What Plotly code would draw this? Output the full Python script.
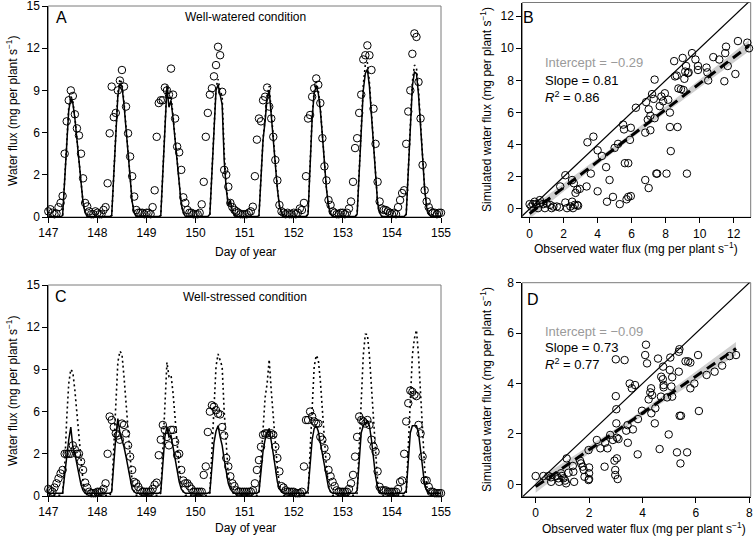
import numpy as np
import plotly.graph_objects as go

# ---------------- data ----------------
days = [147, 148, 149, 150, 151, 152, 153, 154]
hour_of_day = list(range(24))
end_day = 155

# Panel A: well-watered, observed (circles) and simulated (solid / dotted), hourly
obs_A = [
    0.4, 0.55, 0.3, 0.2, 0.25, 0.7, 1.0, 1.5, 4.5, 6.8, 8.3, 9.0, 8.6, 7.3, 6.3, 5.8, 4.5, 2.75, 1.0, 0.75, 0.4, 0.2, 0.2, 0.4,
    0.3, 0.2, 0.2, 0.5, 0.7, 2.4, 5.95, 9.27, 7.1, 7.4, 9.0, 9.7, 10.45, 9.27, 7.85, 5.95, 4.3, 2.9, 1.45, 0.5, 0.3, 0.3, 0.3, 0.2,
    0.3, 0.3, 0.2, 0.7, 1.9, 5.7, 8.1, 8.3, 8.3, 9.2, 9.0, 8.7, 10.55, 8.7, 7.0, 5.0, 4.6, 3.35, 1.4, 1.0, 0.5, 0.3, 0.3, 0.2,
    0.2, 0.2, 0.3, 0.9, 2.5, 5.7, 7.4, 8.7, 9.15, 10.0, 10.8, 12.1, 11.5, 8.9, 3.35, 3.0, 2.15, 1.0, 0.7, 0.5, 0.4, 0.3, 0.2, 0.2,
    0.2, 0.2, 0.3, 0.4, 0.73, 2.9, 5.5, 7.0, 6.8, 8.3, 8.55, 9.2, 7.85, 7.0, 5.7, 4.05, 2.6, 0.85, 0.4, 0.3, 0.2, 0.3, 0.2, 0.2,
    0.3, 0.2, 0.3, 0.6, 0.5, 1.0, 2.9, 7.0, 7.25, 8.55, 9.15, 9.85, 9.4, 8.1, 5.6, 3.6, 2.6, 1.2, 0.85, 0.4, 0.3, 0.2, 0.2, 0.3,
    0.3, 0.2, 0.3, 0.6, 1.1, 2.5, 4.9, 5.6, 7.4, 8.7, 11.2, 11.5, 12.2, 11.5, 10.45, 7.7, 5.2, 2.5, 1.1, 0.6, 0.5, 0.5, 0.4, 0.3,
    0.2, 0.3, 0.2, 0.7, 1.2, 1.7, 1.9, 5.2, 7.5, 9.0, 11.6, 13.05, 12.8, 9.6, 7.0, 3.7, 1.9, 1.1, 0.7, 0.4, 0.3, 0.3, 0.2, 0.3,
    0.3,
]
sim_A_solid = [
    0.03, 0.03, 0.03, 0.03, 0.03, 0.03, 0.03, 0.1, 2.5, 5.6, 7.6, 8.4, 8.1, 7.0, 5.6, 4.0, 2.4, 1.0, 0.3, 0.05, 0.03, 0.03, 0.03, 0.03,
    0.03, 0.03, 0.03, 0.03, 0.03, 0.03, 0.03, 0.1, 3.0, 6.3, 8.6, 9.5, 9.3, 8.0, 6.3, 4.4, 2.6, 1.1, 0.3, 0.05, 0.03, 0.03, 0.03, 0.03,
    0.03, 0.03, 0.03, 0.03, 0.03, 0.03, 0.03, 0.1, 3.0, 6.2, 9.2, 7.8, 8.3, 7.0, 5.5, 3.8, 2.2, 0.9, 0.3, 0.05, 0.03, 0.03, 0.03, 0.03,
    0.03, 0.03, 0.03, 0.03, 0.03, 0.03, 0.03, 0.2, 3.2, 6.8, 9.0, 9.4, 8.6, 8.0, 4.0, 2.0, 0.8, 1.2, 0.4, 0.1, 0.03, 0.03, 0.03, 0.03,
    0.03, 0.03, 0.03, 0.03, 0.03, 0.03, 0.03, 0.1, 2.5, 5.5, 6.8, 8.5, 9.0, 7.2, 5.5, 3.8, 2.0, 0.8, 0.3, 0.05, 0.03, 0.03, 0.03, 0.03,
    0.03, 0.03, 0.03, 0.03, 0.03, 0.03, 0.03, 0.2, 3.5, 7.0, 8.8, 9.3, 8.8, 7.6, 5.8, 3.8, 2.0, 0.8, 0.2, 0.05, 0.03, 0.03, 0.03, 0.03,
    0.03, 0.03, 0.03, 0.03, 0.03, 0.03, 0.03, 0.2, 3.0, 6.5, 9.0, 10.2, 10.5, 9.3, 7.2, 5.0, 2.8, 1.0, 0.3, 0.05, 0.03, 0.03, 0.03, 0.03,
    0.03, 0.03, 0.03, 0.03, 0.03, 0.03, 0.03, 0.2, 3.5, 7.0, 9.3, 10.3, 10.2, 8.7, 6.5, 4.0, 2.0, 0.7, 0.2, 0.05, 0.03, 0.03, 0.03, 0.03,
    0.03,
]
sim_A_dotted = [
    0.02, 0.02, 0.02, 0.02, 0.02, 0.02, 0.02, 0.1, 2.6, 5.8, 7.8, 8.6, 8.2, 7.1, 5.7, 4.1, 2.5, 1.0, 0.3, 0.05, 0.02, 0.02, 0.02, 0.02,
    0.02, 0.02, 0.02, 0.02, 0.02, 0.02, 0.02, 0.1, 3.1, 6.5, 8.8, 9.8, 9.5, 8.2, 6.4, 4.5, 2.7, 1.1, 0.3, 0.05, 0.02, 0.02, 0.02, 0.02,
    0.02, 0.02, 0.02, 0.02, 0.02, 0.02, 0.02, 0.1, 3.1, 6.4, 9.4, 8.3, 8.6, 7.2, 5.6, 3.9, 2.2, 0.9, 0.3, 0.05, 0.02, 0.02, 0.02, 0.02,
    0.02, 0.02, 0.02, 0.02, 0.02, 0.02, 0.02, 0.2, 3.3, 7.0, 9.2, 9.8, 9.0, 8.6, 4.6, 2.2, 0.9, 0.9, 0.4, 0.1, 0.02, 0.02, 0.02, 0.02,
    0.02, 0.02, 0.02, 0.02, 0.02, 0.02, 0.02, 0.1, 2.6, 5.6, 7.0, 8.7, 9.3, 7.4, 5.6, 3.9, 2.1, 0.8, 0.3, 0.05, 0.02, 0.02, 0.02, 0.02,
    0.02, 0.02, 0.02, 0.02, 0.02, 0.02, 0.02, 0.2, 3.6, 7.2, 9.0, 9.6, 9.0, 7.8, 5.9, 3.9, 2.0, 0.8, 0.2, 0.05, 0.02, 0.02, 0.02, 0.02,
    0.02, 0.02, 0.02, 0.02, 0.02, 0.02, 0.02, 0.2, 3.2, 6.8, 9.4, 10.8, 11.0, 9.6, 7.4, 5.1, 2.9, 1.0, 0.3, 0.05, 0.02, 0.02, 0.02, 0.02,
    0.02, 0.02, 0.02, 0.02, 0.02, 0.02, 0.02, 0.2, 3.6, 7.3, 9.6, 10.8, 10.6, 9.0, 6.7, 4.1, 2.0, 0.7, 0.2, 0.05, 0.02, 0.02, 0.02, 0.02,
    0.02,
]

# Panel C: well-stressed
obs_C = [
    0.5, 0.4, 0.3, 0.6, 0.9, 1.25, 1.6, 1.85, 3.0, 3.0, 3.0, 3.0, 3.6, 3.3, 3.0, 3.0, 2.45, 1.85, 0.95, 0.6, 0.3, 0.2, 0.2, 0.2,
    0.3, 0.3, 0.3, 0.5, 0.9, 3.0, 5.65, 5.4, 4.9, 4.45, 4.3, 4.0, 5.15, 5.05, 4.45, 3.6, 2.8, 1.85, 1.0, 0.9, 0.65, 0.4, 0.3, 0.3,
    0.3, 0.3, 0.3, 0.5, 0.8, 0.95, 2.9, 4.0, 5.05, 4.7, 4.2, 3.6, 4.7, 4.7, 3.85, 2.9, 3.0, 1.85, 1.1, 0.9, 0.9, 0.7, 0.5, 0.3,
    0.3, 0.3, 0.3, 0.3, 1.5, 2.1, 4.55, 6.0, 6.45, 6.35, 6.1, 5.85, 5.8, 4.9, 4.3, 2.7, 2.1, 1.4, 0.9, 0.7, 0.4, 0.3, 0.3, 0.3,
    0.3, 0.3, 0.3, 0.3, 0.4, 0.9, 1.85, 2.55, 3.5, 4.35, 4.45, 4.45, 4.35, 4.45, 4.35, 3.5, 2.7, 1.75, 0.7, 0.6, 0.4, 0.3, 0.3, 0.3,
    0.3, 0.2, 0.2, 0.2, 0.3, 2.1, 5.4, 5.4, 6.0, 5.65, 5.3, 5.15, 5.15, 4.2, 4.0, 3.4, 2.8, 1.85, 1.4, 1.0, 0.7, 0.4, 0.3, 0.3,
    0.3, 0.3, 0.3, 0.5, 0.9, 1.5, 2.8, 4.2, 5.65, 5.4, 5.3, 5.15, 5.4, 5.05, 4.0, 3.5, 3.15, 1.75, 0.65, 0.4, 0.4, 0.4, 0.3, 0.3,
    0.3, 0.3, 0.3, 0.5, 1.0, 1.1, 3.0, 5.3, 6.6, 7.5, 7.4, 7.2, 7.1, 5.05, 4.45, 2.8, 1.1, 1.1, 0.65, 0.3, 0.3, 0.2, 0.2, 0.2,
    0.2,
]
sim_C_solid = [
    0.2, 0.2, 0.2, 0.2, 0.2, 0.2, 0.2, 0.2, 1.5, 3.0, 4.0, 4.9, 3.5, 3.0, 2.3, 1.5, 0.8, 0.4, 0.2, 0.2, 0.2, 0.2, 0.2, 0.2,
    0.2, 0.2, 0.2, 0.2, 0.2, 0.2, 0.2, 0.3, 2.5, 4.2, 5.5, 4.5, 4.0, 3.5, 2.8, 2.0, 1.2, 0.5, 0.3, 0.2, 0.2, 0.2, 0.2, 0.2,
    0.2, 0.2, 0.2, 0.2, 0.2, 0.2, 0.2, 0.3, 2.5, 4.2, 4.9, 4.2, 4.3, 3.5, 2.6, 1.8, 1.0, 0.5, 0.3, 0.2, 0.2, 0.2, 0.2, 0.2,
    0.2, 0.2, 0.2, 0.2, 0.2, 0.2, 0.2, 0.3, 2.0, 3.8, 4.6, 5.0, 4.2, 3.6, 2.6, 1.7, 0.9, 0.5, 0.3, 0.2, 0.2, 0.2, 0.2, 0.2,
    0.2, 0.2, 0.2, 0.2, 0.2, 0.2, 0.2, 0.3, 1.8, 3.2, 4.0, 4.5, 4.8, 4.0, 3.0, 2.0, 1.0, 0.5, 0.3, 0.2, 0.2, 0.2, 0.2, 0.2,
    0.2, 0.2, 0.2, 0.2, 0.2, 0.2, 0.2, 0.4, 2.5, 4.0, 4.8, 5.0, 4.6, 3.8, 3.0, 2.2, 1.3, 0.6, 0.3, 0.2, 0.2, 0.2, 0.2, 0.2,
    0.2, 0.2, 0.2, 0.2, 0.2, 0.2, 0.2, 0.4, 2.5, 4.5, 5.0, 5.2, 5.3, 5.0, 4.0, 2.6, 1.4, 0.6, 0.3, 0.2, 0.2, 0.2, 0.2, 0.2,
    0.2, 0.2, 0.2, 0.2, 0.2, 0.2, 0.2, 0.4, 2.8, 4.5, 5.0, 5.0, 5.0, 4.5, 3.2, 1.8, 0.8, 0.4, 0.2, 0.2, 0.2, 0.2, 0.2, 0.2,
    0.2,
]
sim_C_dotted = [
    0.05, 0.05, 0.05, 0.05, 0.05, 0.05, 0.05, 0.2, 2.0, 5.5, 8.0, 9.0, 8.8, 7.5, 5.8, 4.0, 2.3, 1.0, 0.3, 0.05, 0.05, 0.05, 0.05, 0.05,
    0.05, 0.05, 0.05, 0.05, 0.05, 0.05, 0.05, 0.3, 3.5, 7.0, 9.5, 10.3, 10.1, 8.5, 6.5, 4.5, 2.5, 1.0, 0.3, 0.05, 0.05, 0.05, 0.05, 0.05,
    0.05, 0.05, 0.05, 0.05, 0.05, 0.05, 0.05, 0.2, 3.0, 6.5, 9.5, 8.5, 8.6, 7.3, 5.5, 3.8, 2.0, 0.8, 0.3, 0.05, 0.05, 0.05, 0.05, 0.05,
    0.05, 0.05, 0.05, 0.05, 0.05, 0.05, 0.05, 0.2, 3.3, 7.0, 9.2, 10.1, 9.6, 9.2, 6.0, 3.5, 1.5, 0.8, 0.3, 0.05, 0.05, 0.05, 0.05, 0.05,
    0.05, 0.05, 0.05, 0.05, 0.05, 0.05, 0.05, 0.2, 2.5, 5.5, 7.0, 8.0, 9.7, 7.5, 5.5, 3.8, 2.0, 0.8, 0.3, 0.05, 0.05, 0.05, 0.05, 0.05,
    0.05, 0.05, 0.05, 0.05, 0.05, 0.05, 0.05, 0.2, 3.5, 7.0, 9.2, 10.0, 9.7, 8.2, 6.2, 4.0, 2.0, 0.8, 0.3, 0.05, 0.05, 0.05, 0.05, 0.05,
    0.05, 0.05, 0.05, 0.05, 0.05, 0.05, 0.05, 0.2, 3.2, 7.0, 10.0, 11.5, 11.5, 10.0, 7.8, 5.5, 3.0, 1.0, 0.3, 0.05, 0.05, 0.05, 0.05, 0.05,
    0.05, 0.05, 0.05, 0.05, 0.05, 0.05, 0.05, 0.2, 3.8, 7.5, 10.0, 11.2, 11.8, 10.0, 7.0, 4.3, 2.0, 0.7, 0.2, 0.05, 0.05, 0.05, 0.05, 0.05,
    0.05,
]

# Panel B: observed vs simulated, well-watered
obs_B = [0.0, 0.2, 0.4, 0.6, 0.8, 1.0, 0.1, 0.5, 0.9, 1.2, 1.4, 1.6, 1.75, 1.3, 0.6, 0.3,
         2.1, 2.2, 2.4, 2.5, 2.55, 2.65, 2.8, 2.85, 1.8, 2.1, 2.5, 2.6, 2.7, 2.8, 2.95, 3.35,
         3.4, 3.6, 3.75, 4.0, 4.0, 4.25, 4.5, 4.7, 4.55, 4.9, 5.0, 5.2, 5.3, 5.5, 5.55, 5.6,
         5.7, 5.8, 5.8, 5.9, 5.95, 5.95, 6.25, 6.8, 6.8, 6.85, 6.95, 7.0, 7.0, 7.1, 7.1, 7.2,
         7.3, 7.35, 7.35, 7.45, 7.5, 7.65, 7.75, 7.85, 7.95, 8.05, 8.15, 8.25, 8.25, 8.3, 8.5, 8.55,
         8.65, 8.7, 8.75, 8.9, 9.0, 9.05, 9.1, 9.15, 9.2, 9.25, 9.3, 9.35, 9.55, 9.75, 9.9, 9.9,
         10.4, 10.45, 10.5, 10.8, 11.15, 11.45, 11.5, 11.55, 11.65, 12.1, 12.25, 12.8, 12.9]
sim_B = [0.3, 0.3, 0.3, 0.35, 0.3, 0.35, 0.15, 0.05, 0.05, 0.25, 0.15, 0.15, 0.1, 0.05, 0.55, 0.45,
         0.4, 0.05, 0.15, 0.45, 0.05, 0.25, 0.25, 0.2, 1.4, 2.1, 1.8, 1.6, 1.0, 1.2, 1.25, 1.4,
         4.15, 2.2, 4.5, 1.1, 3.65, 3.3, 2.6, 1.8, 0.45, 0.75, 3.8, 4.05, 0.3, 5.25, 4.95, 2.85,
         0.6, 0.75, 2.85, 4.3, 5.05, 0.8, 6.3, 1.8, 4.75, 6.65, 5.55, 6.2, 1.3, 5.8, 4.9, 7.15,
         6.85, 8.05, 5.65, 2.2, 2.2, 6.4, 7.0, 6.7, 7.2, 2.2, 6.8, 6.0, 5.1, 3.6, 9.2, 8.25,
         8.3, 5.1, 7.5, 7.45, 9.4, 7.4, 8.1, 8.55, 8.9, 2.2, 8.45, 8.5, 9.7, 9.3, 8.9, 8.65,
         8.8, 8.5, 8.0, 9.45, 9.3, 7.95, 9.7, 10.1, 8.9, 8.4, 10.45, 10.35, 10.0]

# Panel D: observed vs simulated, well-stressed
obs_D = [0.0, 0.29, 0.48, 0.58, 0.58, 0.79, 0.85, 0.88, 0.98, 1.04, 1.1, 1.14, 1.16, 1.23, 1.39, 1.41,
         1.44, 0.95, 1.66, 1.7, 1.76, 1.8, 1.83, 1.98, 2.0, 2.0, 2.0, 1.98, 2.29, 2.42, 2.58, 2.6,
         2.69, 2.79, 2.89, 2.95, 3.0, 3.0, 3.02, 3.02, 3.04, 3.04, 2.98, 2.98, 3.07, 3.1, 3.33, 3.39,
         3.44, 3.45, 3.52, 3.6, 3.64, 3.72, 3.82, 3.83, 3.98, 4.1, 4.13, 4.17, 4.23, 4.29, 4.32, 4.33,
         4.36, 4.46, 4.48, 4.58, 4.64, 4.69, 4.7, 4.76, 4.77, 4.79, 4.79, 4.92, 4.98, 5.02, 5.04, 5.08,
         5.11, 5.11, 5.29, 5.36, 5.36, 5.38, 5.39, 5.44, 5.42, 5.61, 5.67, 5.71, 5.79, 5.79, 5.94, 6.08,
         6.11, 6.4, 6.7, 6.98, 7.26, 7.5]
sim_D = [0.33, 0.33, 0.33, 0.28, 0.1, 0.33, 0.24, 0.1, 0.33, 0.24, 0.15, 0.04, 1.03, 0.46, 0.73, 0.5,
         0.1, 0.44, 0.94, 0.83, 0.7, 0.57, 0.3, 1.36, 0.67, 0.44, 0.21, 0.17, 1.76, 1.43, 0.7, 1.65,
         1.43, 1.96, 1.76, 0.94, 4.96, 3.5, 2.98, 2.42, 1.85, 1.03, 0.57, 0.37, 0.21, 1.8, 4.93, 2.13,
         2.35, 1.65, 4.0, 3.81, 2.18, 3.94, 1.19, 2.59, 2.92, 5.13, 5.54, 4.8, 3.37, 3.65, 3.81, 2.82,
         3.54, 2.42, 3.02, 4.99, 1.4, 3.48, 4.27, 4.17, 4.67, 3.94, 3.85, 3.45, 1.98, 4.54, 5.03, 3.88,
         4.25, 3.48, 1.27, 4.47, 5.26, 5.36, 2.72, 2.72, 0.83, 4.88, 1.27, 4.88, 4.83, 3.81, 4.0, 5.13,
         2.91, 4.34, 4.47, 4.71, 5.09, 5.13]

# regression statistics printed on the panels
intercept_B, slope_B, r2_B = -0.29, 0.81, 0.86
intercept_D, slope_D, r2_D = -0.09, 0.73, 0.77

# axis tick labels
ts_tickvals = [0, 3, 6, 9, 12, 15]
ts_ticktext = ["0", "2", "6", "9", "12", "15"]
day_ticks = [147, 148, 149, 150, 151, 152, 153, 154, 155]

# ---------------- figure ----------------
FONT = "Liberation Sans, Arial, Helvetica, sans-serif"
W, H = 754, 538
times = [d + h / 24 for d in days for h in hour_of_day] + [end_day]


def px_x(p):
    return p / W


def px_y(p):
    return 1 - p / H


fig = go.Figure()

circle = dict(symbol="circle-open", size=7.5, color="black", line=dict(width=1, color="black"))


def add_ts(obs, solid, dotted, xa, ya):
    fig.add_trace(go.Scatter(x=times, y=obs, mode="markers", marker=circle,
                             xaxis=xa, yaxis=ya, cliponaxis=False, showlegend=False))
    fig.add_trace(go.Scatter(x=times, y=dotted, mode="lines",
                             line=dict(color="black", width=1.6, dash="2px,3px"),
                             xaxis=xa, yaxis=ya, showlegend=False))
    fig.add_trace(go.Scatter(x=times, y=solid, mode="lines",
                             line=dict(color="black", width=1.5),
                             xaxis=xa, yaxis=ya, showlegend=False))


def add_scatter(ox, sy, a, b, xmax_line, xa, ya):
    ox = np.array(ox, dtype=float)
    sy = np.array(sy, dtype=float)
    n = len(ox)
    resid = sy - (a + b * ox)
    s = np.sqrt(np.sum(resid ** 2) / (n - 2))
    xm = ox.mean()
    sxx = np.sum((ox - xm) ** 2)
    xs = np.linspace(ox.min(), ox.max(), 60)
    yfit = a + b * xs
    half = s * np.sqrt(1 / n + (xs - xm) ** 2 / sxx)
    fig.add_trace(go.Scatter(x=np.concatenate([xs, xs[::-1]]),
                             y=np.concatenate([yfit + half, (yfit - half)[::-1]]),
                             fill="toself", fillcolor="#cfcfcf", line=dict(width=0),
                             mode="lines", xaxis=xa, yaxis=ya, showlegend=False, hoverinfo="skip"))
    fig.add_trace(go.Scatter(x=[-1, xmax_line], y=[-1, xmax_line], mode="lines",
                             line=dict(color="black", width=1.2), xaxis=xa, yaxis=ya, showlegend=False))
    fig.add_trace(go.Scatter(x=ox, y=sy, mode="markers", marker=circle,
                             xaxis=xa, yaxis=ya, cliponaxis=False, showlegend=False))
    fig.add_trace(go.Scatter(x=[xs[0], xs[-1]], y=[yfit[0], yfit[-1]], mode="lines",
                             line=dict(color="black", width=3, dash="10px,6px"),
                             xaxis=xa, yaxis=ya, showlegend=False))


add_ts(obs_A, sim_A_solid, sim_A_dotted, "x", "y")
add_scatter(obs_B, sim_B, intercept_B, slope_B, 20, "x2", "y2")
add_ts(obs_C, sim_C_solid, sim_C_dotted, "x3", "y3")
add_scatter(obs_D, sim_D, intercept_D, slope_D, 20, "x4", "y4")

axis_common = dict(showline=True, linecolor="black", linewidth=1, ticks="outside",
                   ticklen=5, tickwidth=1, tickcolor="black", showgrid=False, zeroline=False,
                   automargin=False, ticklabeloverflow="allow",
                   tickfont=dict(family=FONT, size=12, color="black"), fixedrange=True)

dom_A_x = [px_x(48.3), px_x(441)]
dom_A_y = [px_y(217), px_y(6)]
dom_C_y = [px_y(496), px_y(285)]
dom_B_x = [px_x(522.3), px_x(750.7)]
dom_B_y = [px_y(217.3), px_y(2.5)]
dom_D_y = [px_y(496.7), px_y(282.7)]

fig.update_layout(
    width=W, height=H, margin=dict(l=0, r=0, t=0, b=0, autoexpand=False),
    paper_bgcolor="white", plot_bgcolor="white", showlegend=False,
    font=dict(family=FONT, size=12, color="black"),
    xaxis=dict(domain=dom_A_x, range=[147, 155], tickvals=day_ticks, anchor="y", **axis_common),
    yaxis=dict(domain=dom_A_y, range=[0, 15], tickvals=ts_tickvals, ticktext=ts_ticktext, anchor="x", **axis_common),
    xaxis2=dict(domain=dom_B_x, range=[-0.43, 13.0], tickvals=[0, 2, 4, 6, 8, 10, 12], anchor="y2", **axis_common),
    yaxis2=dict(domain=dom_B_y, range=[-0.52, 12.85], tickvals=[0, 2, 4, 6, 8, 10, 12], anchor="x2", **axis_common),
    xaxis3=dict(domain=dom_A_x, range=[147, 155], tickvals=day_ticks, anchor="y3", **axis_common),
    yaxis3=dict(domain=dom_C_y, range=[0, 15], tickvals=ts_tickvals, ticktext=ts_ticktext, anchor="x3", **axis_common),
    xaxis4=dict(domain=dom_B_x, range=[-0.5, 8.05], tickvals=[0, 2, 4, 6, 8], anchor="y4", **axis_common),
    yaxis4=dict(domain=dom_D_y, range=[-0.49, 8.0], tickvals=[0, 2, 4, 6, 8], anchor="x4", **axis_common),
)

# grey frame around each panel (left/bottom covered by black axis lines)
shapes = []
for xa, ya in [("x", "y"), ("x2", "y2"), ("x3", "y3"), ("x4", "y4")]:
    shapes.append(dict(type="rect", xref=f"{xa} domain", yref=f"{ya} domain",
                       x0=0, x1=1, y0=0, y1=1, fillcolor="rgba(0,0,0,0)",
                       line=dict(color="#7a7a7a", width=1), layer="below"))
fig.update_layout(shapes=shapes)

flux_unit = "(mg per plant s<sup>−1</sup>)"
ann = []


def text(x, y, s, size=12, color="black", xanchor="center", angle=0):
    ann.append(dict(x=px_x(x), y=px_y(y), xref="paper", yref="paper", text=s, showarrow=False,
                    xanchor=xanchor, yanchor="middle", textangle=angle, borderpad=0,
                    font=dict(family=FONT, size=size, color=color)))


# panel letters and titles
text(61, 17, "A", size=16)
text(245, 17, "Well-watered condition", size=12)
text(61, 297, "C", size=16)
text(245, 297, "Well-stressed condition", size=12)
text(528, 17, "B", size=16)
text(533, 299, "D", size=16)

# statistics
text(544, 62, f"Intercept = −{abs(intercept_B):.2f}", size=13, color="#9a9a9a", xanchor="left")
text(544, 80, f"Slope = {slope_B:.2f}", size=13, xanchor="left")
text(544, 97, f"<i>R</i><sup>2</sup> = {r2_B:.2f}", size=13, xanchor="left")
text(544, 331, f"Intercept = −{abs(intercept_D):.2f}", size=13, color="#9a9a9a", xanchor="left")
text(544, 347, f"Slope = {slope_D:.2f}", size=13, xanchor="left")
text(544, 364, f"<i>R</i><sup>2</sup> = {r2_D:.2f}", size=13, xanchor="left")

# axis titles
text(245, 252, "Day of year")
text(245, 528, "Day of year")
text(12, 111, "Water flux " + flux_unit, angle=-90)
text(12, 391, "Water flux " + flux_unit, angle=-90)
text(636, 248, "Observed water flux " + flux_unit)
text(644, 528, "Observed water flux " + flux_unit)
text(486, 110, "Simulated water flux " + flux_unit, angle=-90)
text(486, 390, "Simulated water flux " + flux_unit, angle=-90)

fig.update_layout(annotations=ann)

# the page body normally has an 8px margin; remove it so the figure starts at the top-left corner
fig.write_html("out.html", config={"displayModeBar": False, "staticPlot": True},
               post_script="document.body.style.margin='0';document.body.style.overflow='hidden';")
